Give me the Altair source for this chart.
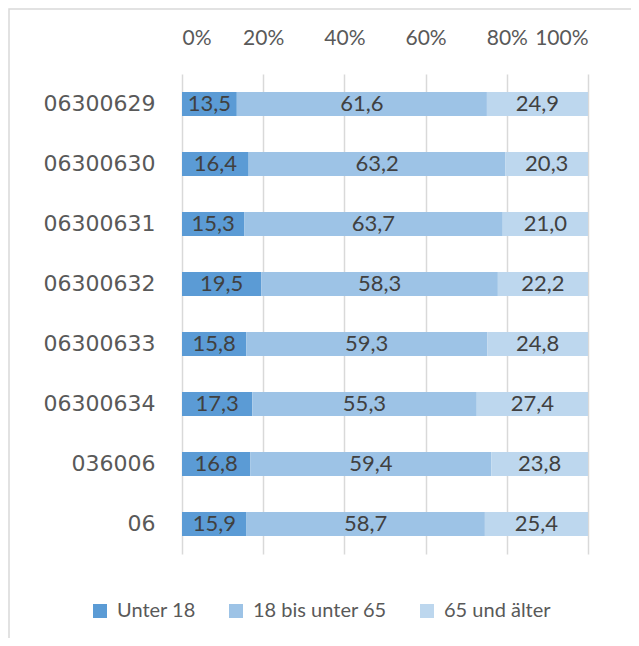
import altair as alt
import pandas as pd

regions = ["06300629", "06300630", "06300631", "06300632", "06300633", "06300634", "036006", "06"]
groups = ["Unter 18", "18 bis unter 65", "65 und älter"]
colors = ["#5b9bd5", "#9dc3e6", "#bdd7ee"]
under18 = [13.5, 16.4, 15.3, 19.5, 15.8, 17.3, 16.8, 15.9]
mid18_65 = [61.6, 63.2, 63.7, 58.3, 59.3, 55.3, 59.4, 58.7]
over65 = [24.9, 20.3, 21.0, 22.2, 24.8, 27.4, 23.8, 25.4]
x_ticks = [0, 0.2, 0.4, 0.6, 0.8, 1.0]

rows = []
for gi, (g, vals) in enumerate(zip(groups, [under18, mid18_65, over65])):
    for r, v in zip(regions, vals):
        rows.append({"region": r, "group": g, "order": gi, "value": v})
df = pd.DataFrame(rows)

base = alt.Chart(df).transform_stack(
    stack="value", groupby=["region"], as_=["v0", "v1"],
    offset="normalize", sort=[alt.SortField("order", order="ascending")]
).transform_calculate(
    mid="(datum.v0 + datum.v1) / 2",
    lbl="replace(format(datum.value, '.1f'), '.', ',')"
)

yenc = alt.Y(
    "region:N", sort=regions,
    scale=alt.Scale(paddingInner=0.6, paddingOuter=0.3),
    axis=alt.Axis(title=None, domain=False, ticks=False, grid=False,
                  labelFont="DejaVu Sans", labelFontSize=22, labelColor="#595959",
                  labelPadding=27),
)

bars = base.mark_bar().encode(
    y=yenc,
    x=alt.X("v0:Q", scale=alt.Scale(domain=[0, 1]),
            axis=alt.Axis(title=None, orient="top", format="%", values=x_ticks,
                          domain=False, ticks=False, grid=True, gridColor="#d9d9d9",
                          gridWidth=1.5, labelFont="Lato", labelFontSize=21,
                          labelColor="#595959", labelPadding=26)),
    x2="v1:Q",
    color=alt.Color("group:N", scale=alt.Scale(domain=groups, range=colors),
                    legend=alt.Legend(title=None, orient="none", legendX=-92, legendY=527,
                                      direction="horizontal", symbolType="square",
                                      symbolSize=196, symbolStrokeWidth=0,
                                      labelFont="Lato", labelFontSize=20,
                                      labelColor="#595959", columnPadding=30,
                                      labelOffset=7)),
)

text = base.mark_text(font="Lato", fontSize=22, color="#404040").encode(
    y=alt.Y("region:N", sort=regions),
    x=alt.X("mid:Q"),
    text="lbl:N",
)

border = alt.Chart(pd.DataFrame({"a": [0]})).mark_rect(
    fill="white", fillOpacity=0, stroke="#d9d9d9", strokeWidth=1.5
).encode(x=alt.value(-173), x2=alt.value(700), y=alt.value(-65), y2=alt.value(700))

chart = alt.layer(border, bars, text).properties(
    width=406, height=480,
    padding={"left": 174, "top": 66, "right": 43, "bottom": 84},
    autosize=alt.AutoSizeParams(type="none"),
    background="white",
).configure_view(stroke=None)

chart.save("out.html", embed_options={"renderer": "svg", "actions": False})
